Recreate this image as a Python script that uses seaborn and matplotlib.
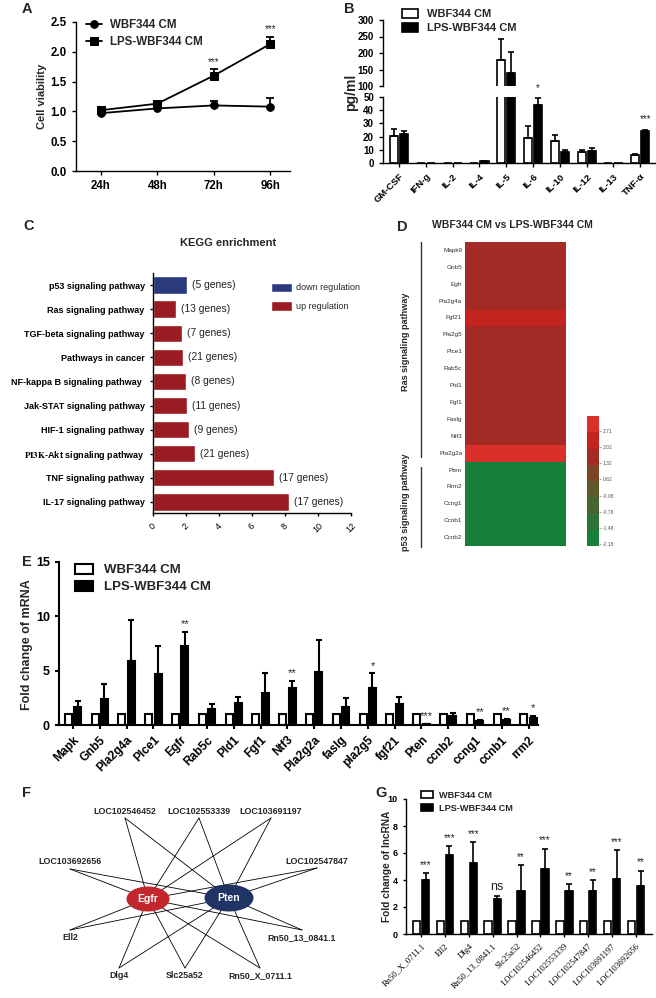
import numpy as np
import pandas as pd
import matplotlib
matplotlib.use("Agg")
import matplotlib.pyplot as plt
import seaborn as sns
from matplotlib.patches import Ellipse, Patch
from matplotlib.colors import ListedColormap

# ---------------- data ----------------
groups = ["WBF344 CM", "LPS-WBF344 CM"]

a_times = ["24h", "48h", "72h", "96h"]
a_wbf = [0.97, 1.05, 1.10, 1.08]
a_wbf_err = [0.02, 0.02, 0.08, 0.14]
a_lps = [1.02, 1.13, 1.60, 2.13]
a_lps_err = [0.02, 0.03, 0.11, 0.12]
a_sig = ["", "", "***", "***"]

b_cyto = ["GM-CSF", "IFN-g", "IL-2", "IL-4", "IL-5", "IL-6", "IL-10", "IL-12", "IL-13", "TNF-α"]
b_wbf = [20.5, 0, 0, 0, 180, 19, 17, 8.5, 0, 6]
b_wbf_err = [5.5, 0, 0, 0, 62, 9, 4.5, 1.2, 0, 0.6]
b_lps = [22, 0, 0, 1.2, 140, 44, 8, 9, 0, 24.5]
b_lps_err = [2.5, 0, 0, 0.3, 62, 5, 1.8, 2, 0, 0.8]
b_sig = ["", "", "", "", "", "*", "", "", "", "***"]

c_pathways = ["p53 signaling pathway", "Ras signaling pathway", "TGF-beta signaling pathway",
              "Pathways in cancer", "NF-kappa B signaling pathway ", "Jak-STAT signaling pathway",
              "HIF-1 signaling pathway", r"$\mathrm{PI3K}$-Akt signaling pathway ",
              "TNF signaling pathway", "IL-17 signaling pathway"]
c_score = [2.05, 1.40, 1.74, 1.84, 2.00, 2.05, 2.20, 2.55, 7.33, 8.25]
c_genes = [5, 13, 7, 21, 8, 11, 9, 21, 17, 17]
c_reg = ["down regulation", "up regulation", "up regulation", "up regulation", "up regulation",
         "up regulation", "up regulation", "up regulation", "up regulation", "up regulation"]

d_genes = ["Mapk9", "Gnb5", "Egfr", "Pla2g4a", "Fgf21", "Pla2g5", "Plce1", "Rab5c", "Pld1",
           "Fgf1", "Faslg", "Ntf3", "Pla2g2a", "Pten", "Rrm2", "Ccng1", "Ccnb1", "Ccnb2"]
d_vals = [1.6, 1.6, 1.6, 1.6, 2.4, 1.6, 1.6, 1.6, 1.6, 1.6, 1.6, 1.6, 3.0,
          -2.1, -2.1, -2.1, -2.1, -2.1]
d_ticks = [-2.18, -1.48, -0.78, -0.08, 0.62, 1.32, 2.02, 2.71]

e_genes = ["Mapk", "Gnb5", "Pla2g4a", "Plce1", "Egfr", "Rab5c", "Pld1", "Fgf1", "Ntf3",
           "Pla2g2a", "faslg", "pla2g5", "fgf21", "Pten", "ccnb2", "ccng1", "ccnb1", "rrm2"]
e_wbf = [1.0, 1.0, 1.0, 1.0, 1.0, 1.0, 1.0, 1.0, 1.0, 1.0, 1.0, 1.0, 1.0, 1.0, 1.0, 1.0, 1.0, 1.0]
e_wbf_err = [0, 0, 0, 0, 0, 0, 0, 0, 0, 0, 0, 0, 0, 0, 0, 0, 0, 0]
e_lps = [1.7, 2.4, 5.9, 4.7, 7.3, 1.5, 2.0, 2.9, 3.45, 4.9, 1.7, 3.45, 1.9, 0.1, 0.85, 0.4, 0.45, 0.6]
e_lps_err = [0.5, 1.4, 3.8, 2.6, 1.3, 0.4, 0.6, 1.9, 0.6, 2.9, 0.75, 1.3, 0.65, 0.02, 0.3, 0.08, 0.12, 0.25]
e_sig = ["", "", "", "", "**", "", "", "", "**", "", "", "*", "", "***", "", "**", "**", "*"]

f_lnc = ["LOC102546452", "LOC102553339", "LOC103691197", "LOC103692656", "LOC102547847",
         "Ell2", "Rn50_13_0841.1", "Dlg4", "Slc25a52", "Rn50_X_0711.1"]
f_hubs = ["Egfr", "Pten"]
f_edges = [(l, h) for l in f_lnc for h in f_hubs]

g_genes = ["Rn50_X_0711.1", "Ell2", "Dlg4", "Rn50_13_0841.1", "Slc25a52", "LOC102546452",
           "LOC102553339", "LOC102547847", "LOC103691197", "LOC103692656"]
g_wbf = [1.0, 1.0, 1.0, 1.0, 1.0, 1.0, 1.0, 1.0, 1.0, 1.0]
g_wbf_err = [0, 0, 0, 0, 0, 0, 0, 0, 0, 0]
g_lps = [4.0, 5.85, 5.25, 2.6, 3.15, 4.85, 3.2, 3.2, 4.1, 3.55]
g_lps_err = [0.5, 0.65, 1.55, 0.2, 1.95, 1.45, 0.5, 0.8, 2.1, 1.15]
g_sig = ["***", "***", "***", "ns", "**", "***", "**", "**", "***", "**"]

# ---------------- style ----------------
sns.set_theme(style="ticks")
plt.rcParams["font.family"] = ["Liberation Sans", "DejaVu Sans"]
plt.rcParams.update({
    "font.weight": "bold", "axes.labelweight": "bold", "mathtext.fontset": "stix",
    "axes.linewidth": 1.0, "xtick.major.width": 1.0, "ytick.major.width": 1.0,
    "xtick.major.size": 3, "ytick.major.size": 3, "xtick.color": "black", "ytick.color": "black",
    "axes.edgecolor": "black",
})

W, H = 656, 998
fig = plt.figure(figsize=(W / 100, H / 100), dpi=100)


def px(x0, y0, x1, y1):
    return [x0 / W, 1 - y1 / H, (x1 - x0) / W, (y1 - y0) / H]


def fig_xy(x, y):
    return (x / W, 1 - y / H)


def bar_handles(lw=1.2):
    return [Patch(facecolor="white", edgecolor="black", linewidth=lw),
            Patch(facecolor="black", edgecolor="black", linewidth=lw)]


def grouped_bars(ax, cats, wbf, lps, wbf_err, lps_err, width, gap, lw, cap):
    df = pd.DataFrame({"cat": cats + cats, "val": wbf + lps,
                       "grp": [groups[0]] * len(cats) + [groups[1]] * len(cats)})
    sns.barplot(data=df, x="cat", y="val", hue="grp", hue_order=groups,
                palette=["white", "black"], edgecolor="black", linewidth=lw, saturation=1,
                width=width, gap=gap, errorbar=None, legend=False, ax=ax)
    tops = []
    for cont, errs in zip(ax.containers, [wbf_err, lps_err]):
        xs = np.array([b.get_x() + b.get_width() / 2 for b in cont])
        ys = np.array([b.get_height() for b in cont])
        e = np.array(errs, float)
        m = e > 0
        if m.any():
            ax.errorbar(xs[m], ys[m], yerr=[np.zeros(m.sum()), e[m]], fmt="none",
                        ecolor="black", elinewidth=lw, capsize=cap, capthick=lw)
        tops.append((xs, ys + e))
    ax.set_xlabel("")
    ax.set_ylabel("")
    return tops


# ---------------- A ----------------
axA = fig.add_axes(px(76, 22, 290, 171))
dfA = pd.DataFrame({"time": a_times + a_times, "val": a_wbf + a_lps,
                    "grp": [groups[0]] * 4 + [groups[1]] * 4})
sns.lineplot(data=dfA, x="time", y="val", hue="grp", style="grp", hue_order=groups,
             style_order=groups, markers={groups[0]: "o", groups[1]: "s"}, dashes=False,
             palette=["black", "black"], markersize=5.5, linewidth=1.3, errorbar=None,
             markeredgecolor="black", ax=axA)
for line, err in zip(axA.lines[:2], [a_wbf_err, a_lps_err]):
    xy = line.get_xydata()
    axA.errorbar(xy[:, 0], xy[:, 1], yerr=[np.zeros(len(err)), err], fmt="none",
                 ecolor="black", elinewidth=1.3, capsize=3, capthick=1.3)
lps_xy = axA.lines[1].get_xydata()
for (x, y), e, s in zip(lps_xy, a_lps_err, a_sig):
    if s:
        axA.text(x, y + e + 0.04, s, ha="center", va="bottom", fontsize=7, fontweight="normal")
hA, lA = axA.get_legend_handles_labels()
axA.legend(hA[:2], lA[:2], loc="upper left", bbox_to_anchor=fig_xy(80, 13),
           bbox_transform=fig.transFigure, frameon=False, handlelength=1.4,
           prop={"size": 8.3, "weight": "bold"}, labelspacing=0.45, borderpad=0, handletextpad=0.7)
axA.set_ylim(0, 2.5)
axA.set_yticks(np.arange(0, 2.51, 0.5))
axA.set_yticklabels([f"{v:.1f}" for v in np.arange(0, 2.51, 0.5)])
axA.set_xlim(-0.44, 3.35)
axA.set_xlabel("")
axA.set_ylabel("")
axA.tick_params(labelsize=8.3)
sns.despine(ax=axA)

# ---------------- B (broken axis) ----------------
axBt = fig.add_axes(px(383, 20, 655, 86))
axBb = fig.add_axes(px(383, 97, 655, 163))
grouped_bars(axBt, b_cyto, b_wbf, b_lps, b_wbf_err, b_lps_err, 0.75, 0.2, 1.2, 2.2)
topsB = grouped_bars(axBb, b_cyto, b_wbf, b_lps, b_wbf_err, b_lps_err, 0.75, 0.2, 1.2, 2.2)
for ax in (axBt, axBb):
    ax.set_xlim(-0.6, 9.55)
    ax.tick_params(labelsize=7)
axBt.set_ylim(100, 300)
axBt.set_yticks([100, 150, 200, 250, 300])
axBt.set_xticks([])
sns.despine(ax=axBt, bottom=True)
axBb.set_ylim(0, 50)
axBb.set_yticks([0, 10, 20, 30, 40, 50])
sns.despine(ax=axBb)
plt.setp(axBb.get_xticklabels(), rotation=45, ha="right", rotation_mode="anchor", fontsize=6.8)
xs, ts = topsB[1]
for x, t, s in zip(xs, ts, b_sig):
    if s:
        axBb.text(x, t + 4, s, ha="center", va="bottom", fontsize=7, fontweight="normal",
                  clip_on=False)
axBb.legend(bar_handles(), groups, loc="upper left", bbox_to_anchor=fig_xy(396, 3),
            bbox_transform=fig.transFigure, frameon=False, handlelength=1.5, handleheight=0.9,
            prop={"size": 8, "weight": "bold"}, labelspacing=0.35, borderpad=0, handletextpad=0.8)

# ---------------- C ----------------
blue, red = "#2B3A7C", "#9B1B22"
axC = fig.add_axes(px(153, 273, 351, 513))
sns.barplot(x=c_score, y=c_pathways, hue=c_reg,
            palette={"down regulation": blue, "up regulation": red}, saturation=1,
            dodge=False, width=0.72, orient="h", legend=False, ax=axC)
for p in axC.patches:
    idx = int(round(p.get_y() + p.get_height() / 2))
    if 0 <= idx < len(c_genes) and p.get_width() > 0:
        axC.text(p.get_width() + 0.3, idx, f"({c_genes[idx]} genes)", va="center", ha="left",
                 fontsize=7.4, fontweight="normal", color="#222")
axC.set_xlim(0, 12)
axC.set_xticks(np.arange(0, 13, 2))
axC.set_ylim(9.46, -0.5)
axC.tick_params(axis="y", labelsize=6.5, length=2.5)
axC.tick_params(axis="x", labelsize=6.5, length=2.5)
plt.setp(axC.get_xticklabels(), rotation=45, ha="center", fontweight="normal")
axC.set_xlabel("")
axC.set_ylabel("")
sns.despine(ax=axC)
fig.legend([Patch(facecolor=blue), Patch(facecolor=red)], ["down regulation", "up regulation"],
           loc="upper left", bbox_to_anchor=fig_xy(266, 278), frameon=False, handlelength=2.4,
           handleheight=1.3, prop={"size": 6.5, "weight": "normal"}, labelspacing=1.0,
           borderpad=0, handletextpad=0.4)

# ---------------- D heatmap ----------------
axD = fig.add_axes(px(465, 242, 566, 546))
caxD = fig.add_axes(px(587, 416, 599, 546))
cmapD = ListedColormap(["#16803A", "#2D7335", "#456530", "#5E582A", "#7A4625",
                        "#A42A25", "#C4231F", "#D9302A"])
dfD = pd.DataFrame({"LPS vs WBF": d_vals}, index=d_genes)
sns.heatmap(dfD, ax=axD, cbar_ax=caxD, cmap=cmapD, vmin=-2.27, vmax=3.37,
            xticklabels=False, yticklabels=True, cbar_kws={"ticks": d_ticks})
axD.set_ylabel("")
axD.tick_params(axis="y", length=0, labelsize=4.6, pad=2, labelcolor="#333")
plt.setp(axD.get_yticklabels(), rotation=0, fontweight="normal")
cbar = axD.collections[0].colorbar
cbar.outline.set_visible(False)
caxD.tick_params(labelsize=3.6, length=1.5, width=0.4, colors="#555", pad=1)
caxD.set_yticklabels([f"{t:.2f}" for t in d_ticks])
plt.setp(caxD.get_yticklabels(), fontweight="normal")

# ---------------- E ----------------
axE = fig.add_axes(px(59, 562, 538, 725))
topsE = grouped_bars(axE, e_genes, e_wbf, e_lps, e_wbf_err, e_lps_err, 0.7, 0.25, 1.5, 2.2)
axE.set_xlim(-0.52, 17.35)
axE.set_ylim(0, 15)
axE.set_yticks([0, 5, 10, 15])
axE.tick_params(axis="y", labelsize=9, width=1.5)
axE.tick_params(axis="x", labelsize=8.5, width=1.5)
for s in axE.spines.values():
    s.set_linewidth(1.5)
plt.setp(axE.get_xticklabels(), rotation=45, ha="right", rotation_mode="anchor")
xs, ts = topsE[1]
for x, t, s in zip(xs, ts, e_sig):
    if s:
        axE.text(x, t + 0.25, s, ha="center", va="bottom", fontsize=8, fontweight="normal")
sns.despine(ax=axE)
axE.legend(bar_handles(1.5), groups, loc="upper left", bbox_to_anchor=fig_xy(68, 557),
           bbox_transform=fig.transFigure, frameon=False, handlelength=1.4, handleheight=0.8,
           prop={"size": 9.5, "weight": "bold"}, labelspacing=0.35, borderpad=0, handletextpad=0.8)

# ---------------- G ----------------
axG = fig.add_axes(px(406, 799, 652, 934))
topsG = grouped_bars(axG, g_genes, g_wbf, g_lps, g_wbf_err, g_lps_err, 0.76, 0.18, 1.2, 2)
axG.set_xlim(-0.63, 9.67)
axG.set_ylim(0, 10)
axG.set_yticks([0, 2, 4, 6, 8, 10])
axG.tick_params(axis="y", labelsize=6.5, length=2.5)
axG.tick_params(axis="x", labelsize=6.2, length=2.5)
plt.setp(axG.get_xticklabels(), rotation=45, ha="right", rotation_mode="anchor",
         family="Liberation Serif", fontweight="normal")
xs, ts = topsG[1]
for x, t, s in zip(xs, ts, g_sig):
    if s == "ns":
        axG.text(x, t + 0.2, s, ha="center", va="bottom", fontsize=9, fontweight="normal")
    elif s:
        axG.text(x, t + 0.25, s, ha="center", va="bottom", fontsize=7, fontweight="normal")
sns.despine(ax=axG)
axG.legend(bar_handles(), groups, loc="upper left", bbox_to_anchor=fig_xy(416, 786),
           bbox_transform=fig.transFigure, frameon=False, handlelength=1.3, handleheight=0.9,
           prop={"size": 6.6, "weight": "bold"}, labelspacing=0.45, borderpad=0, handletextpad=0.7)

# ---------------- overlay: labels, D annotations, F network ----------------
ov = fig.add_axes([0, 0, 1, 1], zorder=10)
ov.set_xlim(0, W)
ov.set_ylim(H, 0)
ov.set_axis_off()
ov.patch.set_alpha(0)

for letter, (x, y) in {"A": (22, 2), "B": (344, 2), "C": (23, 219), "D": (397, 220),
                       "E": (22, 555), "F": (22, 786), "G": (375, 786)}.items():
    ov.text(x, y, letter, fontsize=10.5, fontweight="bold", ha="left", va="top")

ov.text(42, 96, "Cell viability", rotation=90, fontsize=8, ha="center", va="center")
ov.text(351, 92, "pg/ml", rotation=90, fontsize=10, ha="center", va="center")
ov.text(27, 645, "Fold change of mRNA", rotation=90, fontsize=9, ha="center", va="center")
ov.text(387, 866, "Fold change of lncRNA", rotation=90, fontsize=7.3, ha="center", va="center")
ov.text(228, 243, "KEGG enrichment", fontsize=8, ha="center", va="center")
ov.text(512, 225, "WBF344 CM vs LPS-WBF344 CM", fontsize=7.5, ha="center", va="center")

# D group brackets
ov.plot([421, 421], [242, 457], color="#333", lw=1.0)
ov.plot([421, 421], [467, 547], color="#333", lw=1.0)
ov.text(405, 342, "Ras signaling pathway", rotation=90, fontsize=6.6, ha="center", va="center")
ov.text(405, 502, "p53 signaling pathway", rotation=90, fontsize=6.6, ha="center", va="center")

# F network (layout in pixel units)
f_pos = {"LOC102546452": (125, 818, -7), "LOC102553339": (199, 818, -7),
         "LOC103691197": (271, 818, -7), "LOC103692656": (70, 869, -7),
         "LOC102547847": (317, 868, -7), "Ell2": (70, 930, 8),
         "Rn50_13_0841.1": (302, 930, 8), "Dlg4": (119, 968, 8),
         "Slc25a52": (185, 968, 8), "Rn50_X_0711.1": (260, 968, 8)}
hub_pos = {"Egfr": (148, 899, 43, 25, "#C1272D"), "Pten": (229, 898, 49, 27, "#1F3464")}
for lnc, hub in f_edges:
    x0, y0, _ = f_pos[lnc]
    x1, y1 = hub_pos[hub][:2]
    ov.plot([x0, x1], [y0, y1], color="black", lw=0.6, zorder=1)
for hub in f_hubs:
    x, y, w, h, c = hub_pos[hub]
    ov.add_patch(Ellipse((x, y), w, h, facecolor=c, edgecolor="none", zorder=3))
    ov.text(x, y, hub, color="white", fontsize=7.5, ha="center", va="center", zorder=4)
for lnc in f_lnc:
    x, y, dy = f_pos[lnc]
    ov.text(x, y + dy, lnc, fontsize=6.4, ha="center", va="center", zorder=4)

fig.savefig("out.png", dpi=100)
